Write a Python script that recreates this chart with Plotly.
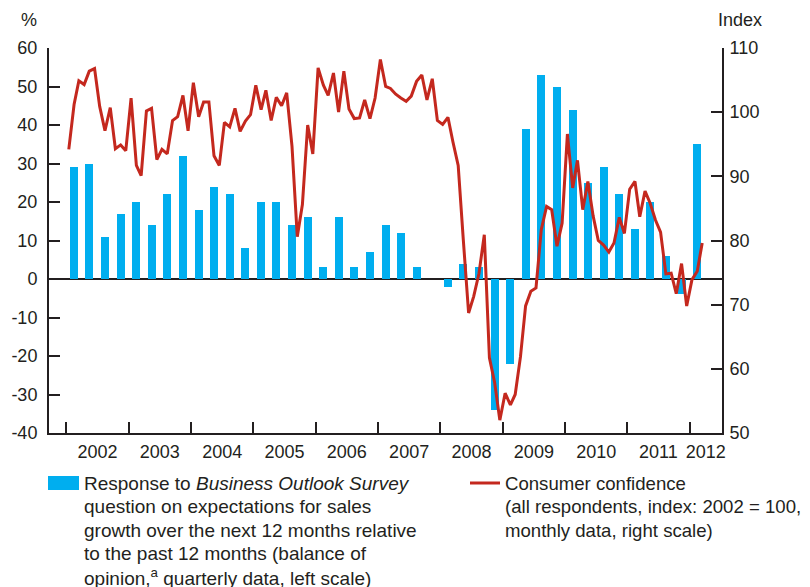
import plotly.graph_objects as go
import pandas as pd

# ---------------- data ----------------
years = list(range(2002, 2013))
year_labels = [str(y) for y in years]

# Business Outlook Survey balance of opinion (quarterly, 2002Q1 .. 2012Q1), %
bos_values = [
    29, 30, 11, 17,    # 2002
    20, 14, 22, 32,    # 2003
    18, 24, 22, 8,     # 2004
    20, 20, 14, 16,    # 2005
    3, 16, 3, 7,       # 2006
    14, 12, 3, 0,      # 2007
    -2, 4, 3, -34,     # 2008
    -22, 39, 53, 50,   # 2009
    44, 25, 29, 22,    # 2010
    13, 20, 6, -4,     # 2011
    35,                # 2012
]

# Consumer confidence index (monthly, Jan 2002 .. Mar 2012), 2002 = 100
cc_values = [
    94.2, 101.2, 104.9, 104.3, 106.4, 106.8, 100.9, 97.1, 100.7, 94.3, 94.9, 94.0,   # 2002
    102.2, 91.7, 90.1, 100.2, 100.6, 92.6, 94.2, 93.5, 98.7, 99.3, 102.6, 97.1,      # 2003
    104.6, 99.3, 101.6, 101.6, 93.2, 91.7, 98.4, 97.7, 100.6, 97.0, 98.6, 99.6,      # 2004
    104.2, 100.4, 103.4, 98.7, 102.3, 101.0, 103.0, 94.7, 80.6, 85.6, 98.0, 93.5,    # 2005
    106.9, 104.2, 102.6, 106.1, 100.0, 106.4, 100.5, 99.0, 99.1, 101.9, 99.0, 102.2, # 2006
    108.2, 104.0, 103.7, 102.8, 102.2, 101.7, 102.5, 104.8, 105.8, 101.9, 105.2, 98.7, # 2007
    98.1, 99.2, 95.4, 91.7, 80.1, 68.7, 71.3, 74.9, 80.9, 61.7, 57.8, 52.0,          # 2008
    56.2, 54.4, 56.0, 61.9, 69.8, 72.1, 72.6, 81.7, 85.3, 84.8, 79.1, 82.7,          # 2009
    96.6, 88.2, 92.5, 84.8, 89.2, 83.8, 80.0, 79.3, 78.2, 79.6, 83.6, 81.1,          # 2010
    88.0, 89.2, 83.7, 87.7, 85.8, 83.2, 81.3, 74.8, 74.9, 71.7, 76.4, 69.8,          # 2011
    73.9, 75.2, 79.6,                                                                # 2012
]

left_ticks = [-40, -30, -20, -10, 0, 10, 20, 30, 40, 50, 60]
right_ticks = [50, 60, 70, 80, 90, 100, 110]

legend_bar_lines = [
    "Response to <i>Business Outlook Survey</i>",
    "question on expectations for sales",
    "growth over the next 12 months relative",
    "to the past 12 months (balance of",
    "opinion,<sup>a</sup> quarterly data, left scale)",
]
legend_line_lines = [
    "Consumer confidence",
    "(all respondents, index: 2002 = 100,",
    "monthly data, right scale)",
]

# ---------------- derived positions ----------------
bos_dates = [f"{2002 + i // 4}-{3 * (i % 4) + 2:02d}-15" for i in range(len(bos_values))]
cc_dates = [f"{2002 + k // 12}-{k % 12 + 1:02d}-15" for k in range(len(cc_values))]

x_start = pd.Timestamp("2001-09-21")
x_end = pd.Timestamp("2012-07-09")
year_starts = [pd.Timestamp(f"{y}-01-01") for y in years]
label_pos = []
for y in years:
    a = max(pd.Timestamp(f"{y}-01-01"), x_start)
    b = min(pd.Timestamp(f"{y + 1}-01-01"), x_end)
    label_pos.append(a + (b - a) / 2)

BLUE = "#00AEEF"
RED = "#C4281E"
INK = "#231F20"
FONT = "Liberation Sans, Arial, sans-serif"

fig = go.Figure()
fig.add_trace(go.Bar(
    x=bos_dates, y=bos_values, marker=dict(color=BLUE, line=dict(width=0)),
    width=46.9 * 86400000, yaxis="y", name="Business Outlook Survey",
))
fig.add_trace(go.Scatter(
    x=cc_dates, y=cc_values, mode="lines", line=dict(color=RED, width=3),
    yaxis="y2", name="Consumer confidence",
))

axis_common = dict(showgrid=False, showline=True, linecolor=INK, linewidth=2,
                   ticks="inside", ticklen=11, tickwidth=2, tickcolor=INK,
                   automargin=False,
                   tickfont=dict(family=FONT, size=18, color=INK))

# page body has an 8px margin; figure is sized to fill the rest of the window
FIG_W, FIG_H = 802, 579
ML, MT, MR, MB = 41, 40, 88, 154

fig.update_layout(
    width=FIG_W, height=FIG_H,
    margin=dict(l=ML, r=MR, t=MT, b=MB, autoexpand=False),
    paper_bgcolor="white", plot_bgcolor="white",
    showlegend=False,
    font=dict(family=FONT, size=18, color=INK),
    bargap=0,
    xaxis=dict(
        type="date", range=[x_start, x_end], automargin=False,
        showgrid=False, showline=True, linecolor=INK, linewidth=2,
        tickmode="array", tickvals=label_pos, ticktext=year_labels,
        ticks="", ticklabelstandoff=1,
        tickfont=dict(family=FONT, size=18, color=INK),
        minor=dict(tickmode="array", tickvals=year_starts, ticks="inside",
                   ticklen=11, tickwidth=2, tickcolor=INK, showgrid=False),
        zeroline=False,
    ),
    yaxis=dict(
        range=[-40, 60], tickmode="array", tickvals=left_ticks,
        ticktext=[str(v) for v in left_ticks],
        zeroline=True, zerolinecolor=INK, zerolinewidth=2,
        ticklabelstandoff=6,
        **axis_common,
    ),
    yaxis2=dict(
        range=[50, 110], tickmode="array", tickvals=right_ticks,
        ticktext=[str(v) for v in right_ticks],
        overlaying="y", side="right", zeroline=False,
        ticklabelstandoff=2,
        **axis_common,
    ),
)

W = FIG_W - ML - MR
H = FIG_H - MT - MB
OFF = 8  # body margin of the page
def px(x):
    return (x - OFF - ML) / W
def py(y):
    return (MT + H - (y - OFF)) / H

# axis unit titles
fig.add_annotation(text="%", xref="paper", yref="paper", x=px(29), y=py(20),
                   showarrow=False, xanchor="center", yanchor="middle",
                   font=dict(family=FONT, size=18, color=INK))
fig.add_annotation(text="Index", xref="paper", yref="paper", x=px(740), y=py(20),
                   showarrow=False, xanchor="center", yanchor="middle",
                   font=dict(family=FONT, size=18, color=INK))

# legend (drawn)
fig.add_shape(type="rect", xref="paper", yref="paper",
              x0=px(48), x1=px(79), y0=py(476), y1=py(490),
              fillcolor=BLUE, line=dict(width=0))
fig.add_shape(type="line", xref="paper", yref="paper",
              x0=px(470), x1=px(500), y0=py(483), y1=py(483),
              line=dict(color=RED, width=3))

LINE_H = 23.5
for i, t in enumerate(legend_bar_lines):
    fig.add_annotation(text=t, xref="paper", yref="paper",
                       x=px(82), y=py(483 + i * LINE_H), xanchor="left", yanchor="middle",
                       align="left", showarrow=False,
                       font=dict(family=FONT, size=19, color=INK))
for i, t in enumerate(legend_line_lines):
    fig.add_annotation(text=t, xref="paper", yref="paper",
                       x=px(503), y=py(483 + i * LINE_H), xanchor="left", yanchor="middle",
                       align="left", showarrow=False,
                       font=dict(family=FONT, size=18.6, color=INK))

fig.write_html("out.html")
